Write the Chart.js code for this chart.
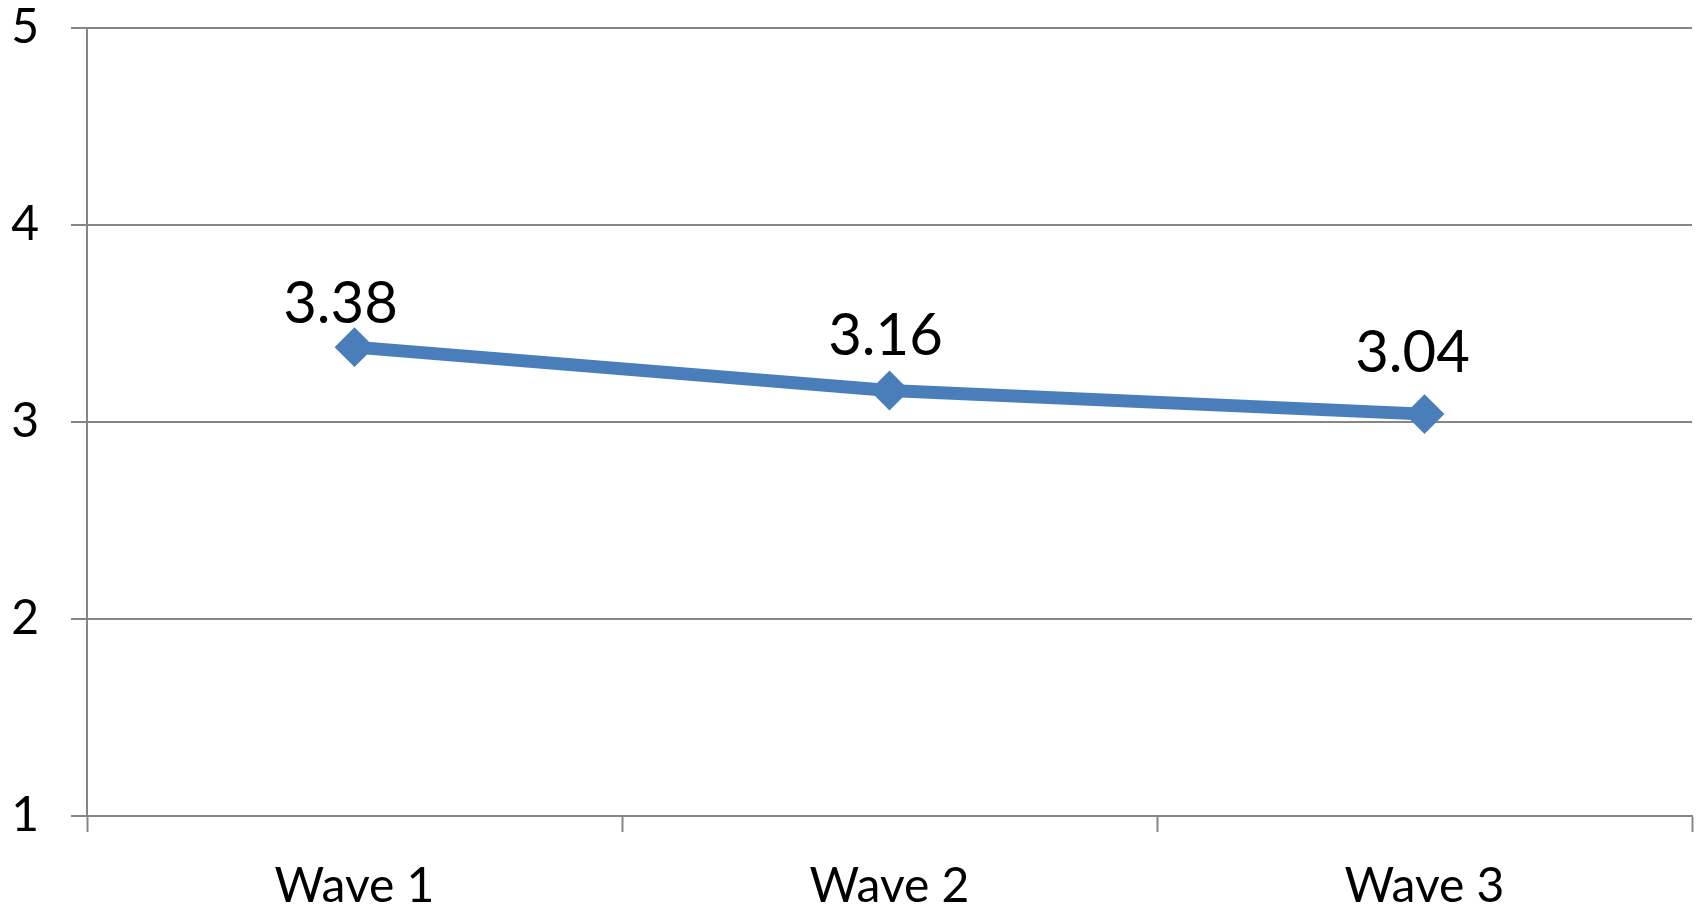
<!DOCTYPE html>
<html>
<head>
<meta charset="utf-8">
<script src="https://cdn.jsdelivr.net/npm/chart.js@4/dist/chart.umd.min.js"></script>
<style>
  html, body { margin: 0; padding: 0; background: #ffffff; }
  #wrap { width: 1700px; height: 906px; }
</style>
</head>
<body>
<div id="wrap"><canvas id="c" width="1700" height="906"></canvas></div>
<script>
// Category labels and mean scores per wave
const categories = ['Wave 1', 'Wave 2', 'Wave 3'];
const scores = [3.38, 3.16, 3.04];
const yTicks = [1, 2, 3, 4, 5];

// Value label placement relative to each point (dx, dy of the text baseline centre)
const labelShift = [[-14, -24], [-4, -35], [-12, -42]];

const FONT = 'Lato, "Open Sans", sans-serif';
const LINE_BLUE = '#4A7EBB';
const GRID = '#868686';

const valueLabels = {
  id: 'valueLabels',
  afterDatasetsDraw(chart) {
    const ctx = chart.ctx;
    const meta = chart.getDatasetMeta(0);
    ctx.save();
    ctx.font = '58px ' + FONT;
    ctx.fillStyle = '#000000';
    ctx.textAlign = 'center';
    ctx.textBaseline = 'alphabetic';
    meta.data.forEach((pt, i) => {
      const s = labelShift[i] || [0, -30];
      ctx.fillText(scores[i].toFixed(2), pt.x + s[0], pt.y + s[1]);
    });
    ctx.restore();
  }
};

new Chart(document.getElementById('c'), {
  type: 'line',
  data: {
    labels: categories,
    datasets: [{
      data: scores,
      borderColor: LINE_BLUE,
      backgroundColor: LINE_BLUE,
      borderWidth: 13,
      pointStyle: 'rectRot',
      pointRadius: 18.5,
      pointBorderWidth: 2,
      pointBackgroundColor: LINE_BLUE,
      pointBorderColor: LINE_BLUE,
      tension: 0,
      fill: false,
      clip: false
    }]
  },
  options: {
    responsive: false,
    animation: false,
    events: [],
    layout: { autoPadding: false, padding: { top: 28, right: 8, left: 0, bottom: 0 } },
    plugins: {
      legend: { display: false },
      tooltip: { enabled: false },
      title: { display: false }
    },
    scales: {
      x: {
        type: 'category',
        offset: true,
        grid: {
          offset: true,
          drawOnChartArea: false,
          drawTicks: true,
          tickLength: 16,
          tickWidth: 2,
          tickColor: GRID
        },
        border: { display: true, color: GRID, width: 2 },
        ticks: {
          color: '#000000',
          font: { family: FONT, size: 48 },
          padding: 26,
          maxRotation: 0,
          autoSkip: false
        },
        afterFit(scale) {
          scale.height = 90;
          scale.paddingLeft = 0;
          scale.paddingRight = 0;
        }
      },
      y: {
        type: 'linear',
        min: yTicks[0],
        max: yTicks[yTicks.length - 1],
        afterBuildTicks(scale) { scale.ticks = yTicks.map(v => ({ value: v })); },
        grid: {
          color: GRID,
          lineWidth: 2,
          drawTicks: true,
          tickLength: 16,
          tickColor: GRID
        },
        border: { display: true, color: GRID, width: 2 },
        ticks: {
          color: '#000000',
          font: { family: FONT, size: 48 },
          padding: 32
        },
        afterFit(scale) {
          scale.width = 87;
          scale.paddingTop = 0;
          scale.paddingBottom = 0;
        }
      }
    }
  },
  plugins: [valueLabels]
});
</script>
</body>
</html>
